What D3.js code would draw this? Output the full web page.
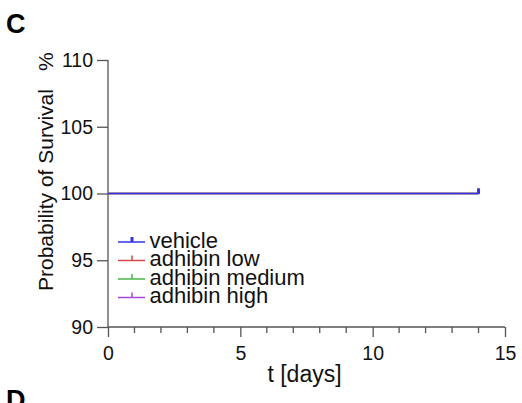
<!DOCTYPE html>
<html><head><meta charset="utf-8">
<script src="https://cdn.jsdelivr.net/npm/d3@7"></script>
<style>body{margin:0;background:#fff}svg{display:block}text{font-family:"Liberation Sans",Arial,sans-serif}</style>
</head><body>
<svg id="c" width="522" height="403"></svg>
<script>
const groups = ["vehicle","adhibin low","adhibin medium","adhibin high"];
const colors = ["#3434e4","#d04848","#48b448","#a448d4"];
const times = [0, 14];
const survival = {
  "vehicle": [100, 100],
  "adhibin low": [100, 100],
  "adhibin medium": [100, 100],
  "adhibin high": [100, 100]
};
const xTicks = [0,5,10,15];
const yTicks = [90,95,100,105,110];

const svg = d3.select("#c");
const x = d3.scaleLinear().domain([0,15]).range([108,505]);
const y = d3.scaleLinear().domain([90,110]).range([327,60]);
const axisColor = "#555";
const FONT = "Liberation Sans, Arial, sans-serif";

// y axis
const ya = svg.append("g").attr("transform","translate(108,0)")
  .call(d3.axisLeft(y).tickValues(yTicks).tickSize(11).tickPadding(4));
ya.select(".domain").attr("stroke",axisColor).attr("stroke-width",1.3).attr("d","M0,60V327");
ya.selectAll(".tick line").attr("stroke",axisColor).attr("stroke-width",1.3);
ya.selectAll(".tick text").attr("font-size","19.5px").attr("fill","#111").attr("font-family",FONT);

// x axis
const xa = svg.append("g").attr("transform","translate(0,327)")
  .call(d3.axisBottom(x).tickValues(xTicks).tickSize(10).tickPadding(9));
xa.select(".domain").attr("stroke",axisColor).attr("stroke-width",1.3).attr("d","M108,0H505");
xa.selectAll(".tick line").attr("stroke",axisColor).attr("stroke-width",1.3);
xa.selectAll(".tick text").attr("font-size","19.5px").attr("fill","#111").attr("font-family",FONT);
// minor ticks
const minor = d3.range(0,16).filter(d => d % 5 !== 0);
svg.append("g").selectAll("line").data(minor).join("line")
  .attr("x1",d=>x(d)).attr("x2",d=>x(d)).attr("y1",327).attr("y2",333)
  .attr("stroke",axisColor).attr("stroke-width",1.3);

// survival lines (drawn so vehicle is on top)
const order = groups.slice().reverse();
order.forEach(g => {
  const i = groups.indexOf(g);
  const pts = times.map((t,k)=>[t, survival[g][k]]);
  const line = d3.line().curve(d3.curveStepAfter).x(d=>x(d[0])).y(d=>y(d[1]));
  svg.append("path").attr("d", line(pts)).attr("fill","none")
    .attr("stroke", colors[i]).attr("stroke-width",1.6);
  const last = pts[pts.length-1];
  svg.append("line").attr("x1",x(last[0])).attr("x2",x(last[0]))
    .attr("y1",y(last[1])+0.5).attr("y2",y(last[1])-5)
    .attr("stroke",colors[i]).attr("stroke-width",g==="vehicle"?3:1.5);
});

// legend
const legY = [242,260.5,279,297.5];
groups.forEach((g,i)=>{
  const gy = legY[i];
  svg.append("line").attr("x1",118).attr("x2",145).attr("y1",gy).attr("y2",gy)
    .attr("stroke",colors[i]).attr("stroke-width",1.5);
  svg.append("line").attr("x1",132).attr("x2",132).attr("y1",gy).attr("y2",gy-5)
    .attr("stroke",colors[i]).attr("stroke-width",i===0?3:1.5);
  svg.append("text").attr("x",149.5).attr("y",gy+5.5).attr("font-size","22px").attr("fill","#111").text(g);
});

// axis labels
svg.append("text").attr("transform","translate(53,291) rotate(-90)")
  .attr("text-anchor","start").attr("font-size","21px").attr("fill","#111")
  .text("Probability of Survival");
svg.append("text").attr("transform","translate(53,71) rotate(-90)")
  .attr("text-anchor","start").attr("font-size","21px").attr("fill","#111")
  .text("%");
svg.append("text").attr("x",304.5).attr("y",382).attr("text-anchor","middle")
  .attr("font-size","23px").attr("fill","#111").text("t [days]");

// panel letters
svg.append("text").attr("x",6).attr("y",33).attr("font-size","27px").attr("font-weight","bold").attr("fill","#000").text("C");
svg.append("text").attr("x",6).attr("y",409).attr("font-size","27px").attr("font-weight","bold").attr("fill","#000").text("D");
</script>
</body></html>
